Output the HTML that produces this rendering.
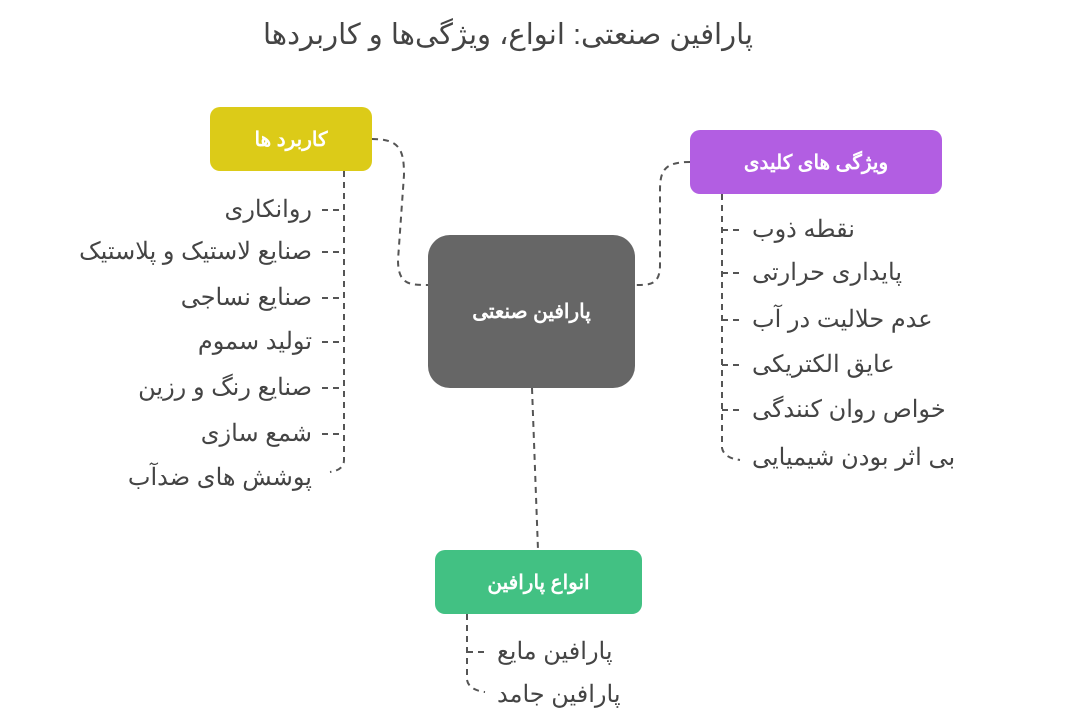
<!DOCTYPE html>
<html><head><meta charset="utf-8"><style>
body{margin:0;width:1080px;height:720px;background:#fff;position:relative;overflow:hidden;font-family:"Liberation Sans","Noto Sans CJK SC",sans-serif;}
.t{position:absolute;font-size:24px;color:#444;white-space:nowrap;direction:rtl;line-height:24px;}
.r{text-align:right}
.box{position:absolute;display:flex;align-items:center;justify-content:center;color:#fff;font-weight:bold;font-size:20px;direction:rtl;}
</style></head><body>
<svg width="1080" height="720" style="position:absolute;left:0;top:0" fill="none" stroke="#555" stroke-width="2" stroke-dasharray="6,5">
<path d="M372 139 C400 139 404 150 404 175 L398 260 C398 285 410 285 428 285"/>
<path d="M690 162 C665 162 660 170 660 190 L660 265 C660 285 650 285 635 285"/>
<path d="M532 388 L538 550"/>
<path d="M344 171 L344 460 Q344 470 330 472"/>
<path d="M322 210 H344 M322 252 H344 M322 298 H344 M322 342 H344 M322 388 H344 M322 434 H344"/>
<path d="M722 194 L722 448 Q724 458 740 460"/>
<path d="M722 230 H742 M722 273 H742 M722 320 H742 M722 365 H742 M722 410 H742"/>
<path d="M467 614 L467 680 Q469 690 485 692"/>
<path d="M467 652 H487"/>
</svg>
<div class="t" style="left:0;width:1016px;top:17px;text-align:center;font-size:29px;line-height:36px;color:#444">پارافین صنعتی: انواع، ویژگی‌ها و کاربردها</div>
<div class="box" style="left:210px;top:107px;width:162px;height:64px;background:#dccb18;border-radius:10px">کاربرد ها</div>
<div class="box" style="left:690px;top:130px;width:252px;height:64px;background:#b25ee2;border-radius:10px">ویژگی های کلیدی</div>
<div class="box" style="left:428px;top:235px;width:207px;height:153px;background:#666;border-radius:22px">پارافین صنعتی</div>
<div class="box" style="left:435px;top:550px;width:207px;height:64px;background:#42c183;border-radius:10px">انواع پارافین</div>
<div class="t r" style="right:768px;top:198px">روانکاری</div>
<div class="t r" style="right:768px;top:240px">صنایع لاستیک و پلاستیک</div>
<div class="t r" style="right:768px;top:286px">صنایع نساجی</div>
<div class="t r" style="right:768px;top:330px">تولید سموم</div>
<div class="t r" style="right:768px;top:376px">صنایع رنگ و رزین</div>
<div class="t r" style="right:768px;top:422px">شمع سازی</div>
<div class="t r" style="right:768px;top:466px">پوشش های ضدآب</div>
<div class="t" style="left:752px;top:218px">نقطه ذوب</div>
<div class="t" style="left:752px;top:261px">پایداری حرارتی</div>
<div class="t" style="left:752px;top:308px">عدم حلالیت در آب</div>
<div class="t" style="left:752px;top:353px">عایق الکتریکی</div>
<div class="t" style="left:752px;top:398px">خواص روان کنندگی</div>
<div class="t" style="left:752px;top:446px">بی اثر بودن شیمیایی</div>
<div class="t" style="left:497px;top:640px">پارافین مایع</div>
<div class="t" style="left:497px;top:683px">پارافین جامد</div>
</body></html>
